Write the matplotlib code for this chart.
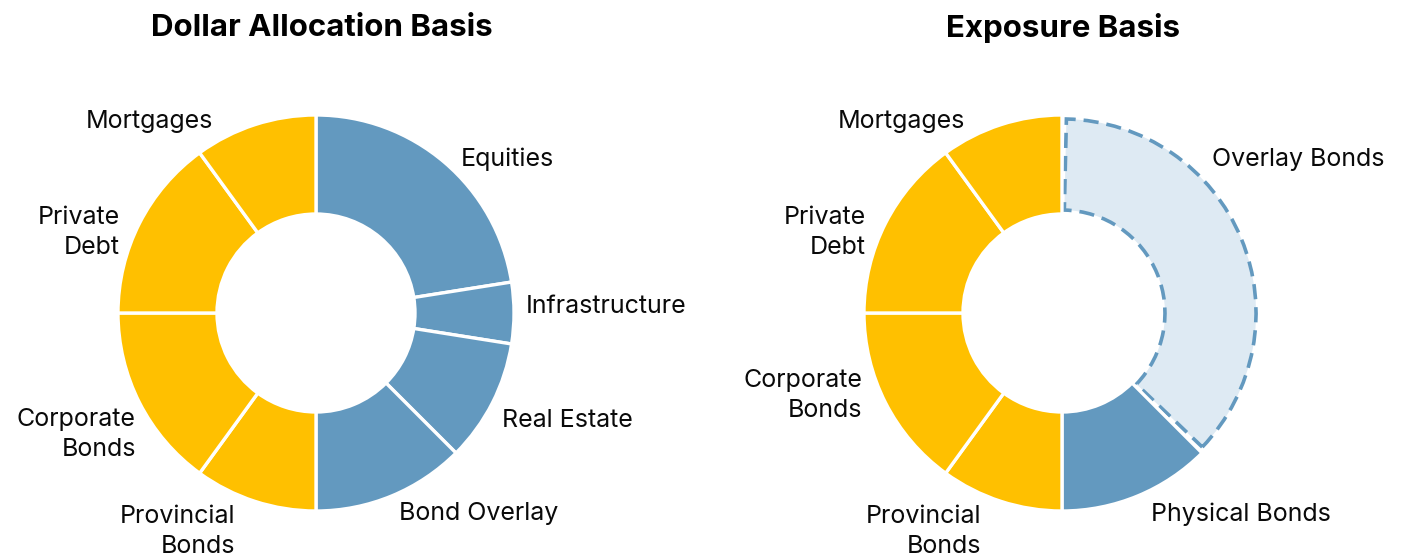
import matplotlib
matplotlib.use("Agg")
import matplotlib.pyplot as plt

plt.rcParams['font.family'] = ['Inter', 'DejaVu Sans']

BLUE = '#6399bf'
GOLD = '#ffc000'
LIGHT = '#deeaf3'

# Dollar allocation basis (% of portfolio)
left_labels = ['Equities', 'Infrastructure', 'Real Estate', 'Bond Overlay',
               'Provincial\nBonds', 'Corporate\nBonds', 'Private\nDebt', 'Mortgages']
left_values = [22.5, 5, 10, 12.5, 10, 15, 15, 10]
left_colors = [BLUE, BLUE, BLUE, BLUE, GOLD, GOLD, GOLD, GOLD]

# Exposure basis (% of portfolio)
right_labels = ['Overlay Bonds', 'Physical Bonds', 'Provincial\nBonds',
                'Corporate\nBonds', 'Private\nDebt', 'Mortgages']
right_values = [37.5, 12.5, 10, 15, 15, 10]
right_colors = [LIGHT, BLUE, GOLD, GOLD, GOLD, GOLD]

# label anchor positions in pie units (radius = 1), with alignment
left_label_pos = [(0.73, 0.775, 'left'), (1.06, 0.035, 'left'), (0.94, -0.545, 'left'),
                  (0.42, -1.015, 'left'), (-0.41, -1.105, 'right'), (-0.91, -0.615, 'right'),
                  (-0.99, 0.405, 'right'), (-0.52, 0.965, 'right')]
right_label_pos = [(0.76, 0.775, 'left'), (0.45, -1.015, 'left'), (-0.41, -1.105, 'right'),
                   (-1.01, -0.415, 'right'), (-0.99, 0.405, 'right'), (-0.49, 0.965, 'right')]

W, H = 1408, 559
fig = plt.figure(figsize=(W / 100, H / 100), dpi=100)


def donut(x0, title, tx, labels, values, colors, label_pos):
    ax = fig.add_axes([x0 / W, (H - 511) / H, 396 / W, 396 / H])
    wedges, _ = ax.pie(values, colors=colors, startangle=90, counterclock=False,
                       wedgeprops=dict(width=0.5, edgecolor='white', linewidth=2.4))
    ax.set_xlim(-1, 1)
    ax.set_ylim(-1, 1)
    ax.set_aspect('equal')
    ax.axis('off')
    for lab, (x, y, ha) in zip(labels, label_pos):
        ax.text(x, y, lab, ha=ha, va='center', fontsize=18, color='#0a0a0a',
                linespacing=1.4, clip_on=False)
    fig.text(tx / W, 1 - 28 / H, title, ha='center', va='center',
             fontsize=22.5, fontweight='bold', color='#000000')
    return wedges


donut(118, 'Dollar Allocation Basis', 322, left_labels, left_values,
      left_colors, left_label_pos)
rw = donut(864, 'Exposure Basis', 1063, right_labels, right_values,
           right_colors, right_label_pos)

# overlay wedge: inset with dashed outline
ov = rw[0]
d = 0.02
ov.set_radius(1 - d)
ov.set_width(0.5 - 2 * d)
ov.set_theta1(ov.theta1 + 1.3)
ov.set_theta2(ov.theta2 - 1.3)
ov.set_edgecolor(BLUE)
ov.set_linewidth(2.6)
ov.set_linestyle((0, (4.2, 2.2)))

fig.savefig('out.png', dpi=100)
